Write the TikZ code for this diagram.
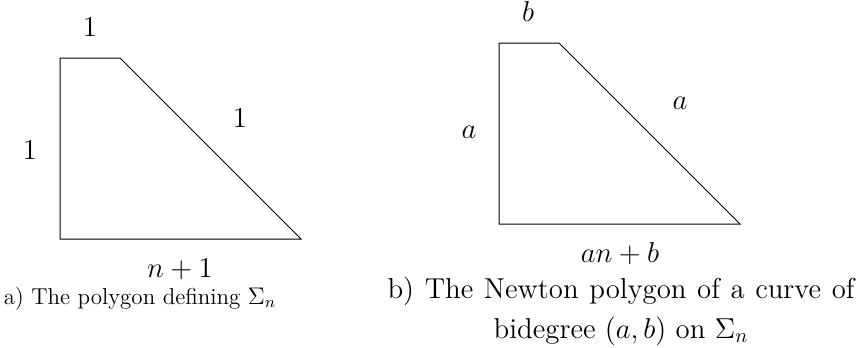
\documentclass[tikz,border=0pt]{standalone}
\begin{document}
\begin{tikzpicture}[x=0.5pt,y=-0.5pt,
  poly/.style={draw=black,line width=0.5pt},
  lbl/.style={inner sep=0pt,anchor=base,font=\fontsize{14}{17}\selectfont},
  capa/.style={inner sep=0pt,anchor=base,font=\fontsize{11.5}{14}\selectfont},
  capb/.style={inner sep=0pt,anchor=base,font=\fontsize{14.4}{18}\selectfont}]
\useasboundingbox (0,0) rectangle (859,348);
% left polygon
\coordinate (A1) at (60,58);
\coordinate (A2) at (120,58);
\coordinate (A3) at (301,239);
\coordinate (A4) at (60,239);
\draw[poly] (A1) -- (A2) -- (A3) -- (A4) -- cycle;
\node[lbl] (la) at (90,37) {$1$};
\node[lbl] (lb) at (30,159) {$1$};
\node[lbl] (lc) at (240,127) {$1$};
\node[lbl] (ld) at (180,278) {$n+1$};
\node[capa] (capA) at (140,304) {a) The polygon defining $\Sigma_n$};
% right polygon
\coordinate (B1) at (499,43);
\coordinate (B2) at (559,43);
\coordinate (B3) at (740,224);
\coordinate (B4) at (499,224);
\draw[poly] (B1) -- (B2) -- (B3) -- (B4) -- cycle;
\node[lbl] (ra) at (528,22) {$b$};
\node[lbl] (rb) at (469,139) {$a$};
\node[lbl] (rc) at (680,109) {$a$};
\node[lbl] (rd) at (620,262) {$an+b$};
\node[capb] (capB1) at (621,298) {\makebox[233.5pt][s]{b) The Newton polygon of a curve of}};
\node[capb] (capB2) at (621,338) {bidegree $(a,b)$ on $\Sigma_n$};
\end{tikzpicture}
\end{document}
